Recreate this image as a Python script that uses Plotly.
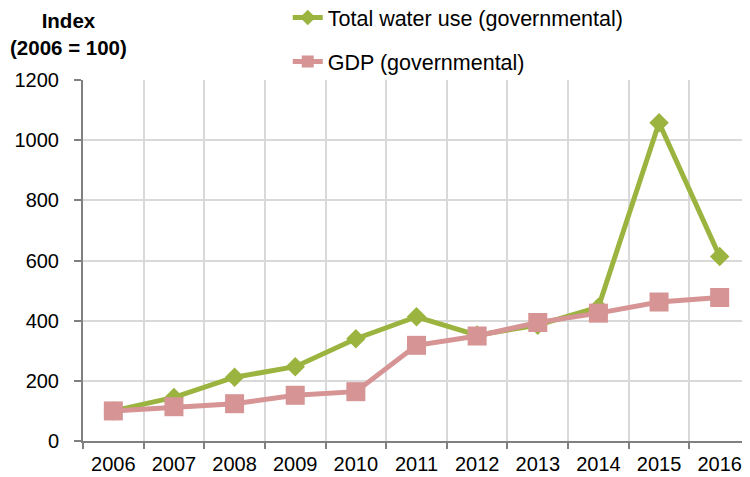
import plotly.graph_objects as go

years = ["2006", "2007", "2008", "2009", "2010", "2011", "2012", "2013", "2014", "2015", "2016"]
water_use = [100, 145, 212, 247, 340, 413, 352, 385, 445, 1058, 613]
gdp = [100, 114, 124, 152, 164, 318, 349, 394, 425, 462, 477]

green = "#9BB43F"
pink = "#D69494"

fig = go.Figure()
fig.add_trace(go.Scatter(
    x=years, y=water_use, mode="lines+markers", name="Total water use (governmental)",
    line=dict(color=green, width=5), marker=dict(symbol="diamond", size=15, color=green),
    legendgroup="a"))
fig.add_trace(go.Scatter(
    x=years, y=gdp, mode="lines+markers", name="GDP (governmental)",
    line=dict(color=pink, width=5), marker=dict(symbol="square", size=19, color=pink),
    legendgroup="b"))

# the page body has an 8px margin, so margins are compensated by 8px
fig.update_layout(
    width=750, height=477,
    margin=dict(l=75, r=8, t=72, b=44, autoexpand=False),
    plot_bgcolor="white", paper_bgcolor="white",
    font=dict(family="Liberation Sans, Arial, sans-serif", size=20, color="#000000"),
    showlegend=True,
    legend=dict(x=0.373, y=1.230, xref="container", yref="paper", xanchor="left", yanchor="top",
                orientation="v", tracegroupgap=13, font=dict(size=21.5), bgcolor="rgba(0,0,0,0)",
                itemsizing="constant"),
    xaxis=dict(type="category", range=[-0.5, 10.5], showgrid=True, gridcolor="#D9D9D9", gridwidth=2,
               tickson="boundaries", ticks="outside", ticklen=6, tickcolor="#808080", tickwidth=2,
               showline=True, linecolor="#808080", linewidth=2, tickfont=dict(size=20),
               tickangle=0, ticklabelstandoff=4),
    yaxis=dict(range=[0, 1200], dtick=200, showgrid=True, gridcolor="#D9D9D9", gridwidth=2,
               ticks="outside", ticklen=7, tickcolor="#808080", tickwidth=2,
               showline=True, linecolor="#808080", linewidth=2, tickfont=dict(size=20),
               zeroline=False, ticklabelstandoff=11),
)

fig.add_annotation(text="<b>Index<br>(2006 = 100)</b>", xref="paper", yref="paper",
                   x=-0.021, y=1.0, yshift=73, xanchor="center", yanchor="top",
                   showarrow=False, font=dict(size=20.5), align="center")

fig.write_html("out.html")
